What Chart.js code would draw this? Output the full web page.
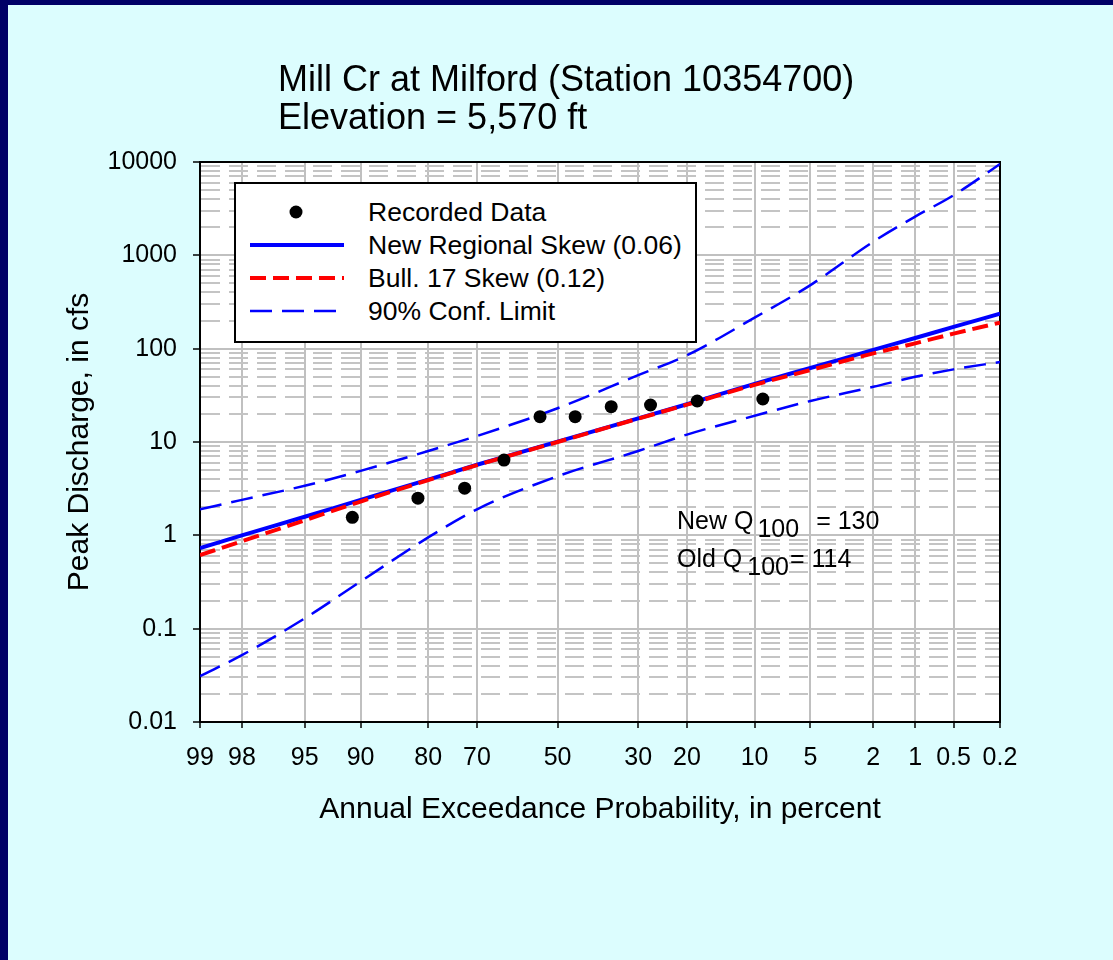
<!DOCTYPE html>
<html>
<head>
<meta charset="utf-8">
<script src="https://cdn.jsdelivr.net/npm/chart.js@4/dist/chart.umd.min.js"></script>
<style>
html,body{margin:0;padding:0;}
body{width:1113px;height:960px;background:#DCFDFE;position:relative;overflow:hidden;font-family:"Liberation Sans",Arial,sans-serif;color:#000;}
#frameTop{position:absolute;left:0;top:0;width:1113px;height:5px;background:#000066;}
#frameLeft{position:absolute;left:0;top:0;width:8px;height:960px;background:#000066;}
#chart{position:absolute;left:0;top:0;}
.title{position:absolute;left:278px;top:60px;font-size:36px;line-height:38px;white-space:nowrap;}
#legend{position:absolute;left:234px;top:182px;width:459px;height:157px;border:2px solid #000;background:#fff;}
.lrow{position:absolute;left:0;height:30px;width:459px;}
.lrow svg{position:absolute;left:0;top:0;}
.lrow span{position:absolute;left:132px;top:0;font-size:26.5px;line-height:30px;white-space:nowrap;}
.note{position:absolute;left:677px;font-size:25px;line-height:30px;white-space:nowrap;}
.sub{position:relative;top:8px;}
</style>
</head>
<body>
<div id="frameTop"></div>
<div id="frameLeft"></div>
<canvas id="chart" width="1113" height="960"></canvas>
<div class="title">Mill Cr at Milford (Station 10354700)<br>Elevation = 5,570 ft</div>
<div id="legend"></div>
<div class="note" style="top:505px;">New Q<span class="sub" style="margin-left:4px;">100</span><span style="margin-left:17px;">= 130</span></div>
<div class="note" style="top:543px;">Old Q<span class="sub" style="margin-left:5px;">100</span><span style="margin-left:1px;">= 114</span></div>
<script>
// ---------- data ----------
const xTickProbs  = [99, 98, 95, 90, 80, 70, 50, 30, 20, 10, 5, 2, 1, 0.5, 0.2];
const xTickLabels = ['99','98','95','90','80','70','50','30','20','10','5','2','1','0.5','0.2'];
const yTickValues = [0.01, 0.1, 1, 10, 100, 1000, 10000];
const yTickLabels = ['0.01','0.1','1','10','100','1000','10000'];

const recordedProbs = [90.91, 81.82, 72.73, 63.64, 54.55, 45.45, 36.36, 27.27, 18.18, 9.09];
const recordedQ     = [1.56, 2.5, 3.2, 6.4, 18.7, 18.7, 23.9, 24.9, 27.5, 28.9];

const curveProbs = [99, 98, 95, 90, 80, 70, 50, 30, 20, 10, 5, 2, 1, 0.5, 0.2];
const newSkewQ   = [0.73, 1.0, 1.58, 2.4, 3.95, 5.7, 10.1, 17.9, 25.4, 42, 62, 97, 130, 171, 237];
const bull17Q    = [0.615, 0.865, 1.45, 2.3, 3.9, 5.65, 10.0, 17.8, 25.1, 41, 59, 89, 114, 145, 190];
const upperCLQ   = [1.9, 2.4, 3.4, 4.9, 8.0, 11.6, 23, 52, 85, 215, 480, 1400, 2600, 4400, 9500];
const lowerCLQ   = [0.031, 0.052, 0.129, 0.32, 0.95, 1.9, 4.3, 8.0, 12.0, 19.1, 27.5, 39, 50, 60, 72];

const seriesLabels = ['Recorded Data', 'New Regional Skew (0.06)', 'Bull. 17 Skew (0.12)', '90% Conf. Limit'];
const xTitle = 'Annual Exceedance Probability, in percent';
const yTitle = 'Peak Discharge, in cfs';

// ---------- normal probability scale transform ----------
function normInv(p){
  const a=[-3.969683028665376e+01,2.209460984245205e+02,-2.759285104469687e+02,1.383577518672690e+02,-3.066479806614716e+01,2.506628277459239e+00];
  const b=[-5.447609879822406e+01,1.615858368580409e+02,-1.556989798598866e+02,6.680131188771972e+01,-1.328068155288572e+01];
  const c=[-7.784894002430293e-03,-3.223964580411365e-01,-2.400758277161838e+00,-2.549732539343734e+00,4.374664141464968e+00,2.938163982698783e+00];
  const d=[7.784695709041462e-03,3.224671290700398e-01,2.445134137142996e+00,3.754408661907416e+00];
  const pl=0.02425, ph=1-pl; let q,r;
  if(p<pl){q=Math.sqrt(-2*Math.log(p));return (((((c[0]*q+c[1])*q+c[2])*q+c[3])*q+c[4])*q+c[5])/((((d[0]*q+d[1])*q+d[2])*q+d[3])*q+1);}
  if(p<=ph){q=p-0.5;r=q*q;return (((((a[0]*r+a[1])*r+a[2])*r+a[3])*r+a[4])*r+a[5])*q/(((((b[0]*r+b[1])*r+b[2])*r+b[3])*r+b[4])*r+1);}
  q=Math.sqrt(-2*Math.log(1-p));return -(((((c[0]*q+c[1])*q+c[2])*q+c[3])*q+c[4])*q+c[5])/((((d[0]*q+d[1])*q+d[2])*q+d[3])*q+1);
}
const zOf = pct => normInv(1 - pct/100);
const toPts = (probs, vals) => probs.map((p,i)=>({x:zOf(p), y:vals[i]}));

const isDecade = v => Math.abs(Math.log10(v) - Math.round(Math.log10(v))) < 1e-6;
const FONT = '"Liberation Sans", Arial, sans-serif';
Chart.defaults.font.family = FONT;
Chart.defaults.color = '#000';

const styles = {
  rec:  {color:'#000000'},
  neu:  {color:'#0000FF', width:4, dash:[]},
  b17:  {color:'#FF0000', width:4, dash:[16,7]},
  conf: {color:'#0000FF', width:2.5, dash:[22,10]}
};

const lineDs = (label, data, st, order) => ({
  label, data, showLine:true, borderColor:st.color, borderWidth:st.width, borderDash:st.dash,
  pointRadius:0, fill:false, cubicInterpolationMode:'monotone', order
});

const datasets = [
  {label:seriesLabels[0], data:toPts(recordedProbs, recordedQ), showLine:false, pointRadius:6.5,
   pointBackgroundColor:'#000', pointBorderWidth:0, order:0},
  lineDs(seriesLabels[1], toPts(curveProbs, newSkewQ), styles.neu, 2),
  lineDs(seriesLabels[2], toPts(curveProbs, bull17Q), styles.b17, 1),
  lineDs(seriesLabels[3], toPts(curveProbs, upperCLQ), styles.conf, 3),
  lineDs(seriesLabels[3] + ' (lower)', toPts(curveProbs, lowerCLQ), styles.conf, 3)
];

const framePlugin = {
  id:'frame',
  beforeDraw(chart){
    const {ctx, chartArea:a} = chart;
    ctx.save(); ctx.fillStyle='#FFFFFF';
    ctx.fillRect(a.left, a.top, a.right-a.left, a.bottom-a.top);
    ctx.restore();
  },
  beforeDatasetsDraw(chart){
    const {ctx, chartArea:a} = chart;
    ctx.save(); ctx.strokeStyle='#000'; ctx.lineWidth=2;
    ctx.strokeRect(a.left, a.top, a.right-a.left, a.bottom-a.top);
    ctx.restore();
  }
};

new Chart(document.getElementById('chart'), {
  type:'scatter',
  data:{datasets},
  options:{
    responsive:false, animation:false, devicePixelRatio:1,
    layout:{padding:{top:162, right:113, left:0, bottom:0}},
    plugins:{legend:{display:false}, tooltip:{enabled:false}, title:{display:false}},
    scales:{
      x:{
        type:'linear', min:zOf(99), max:zOf(0.2),
        afterFit(s){ s.height = 238; },
        afterBuildTicks(s){ s.ticks = xTickProbs.map(p=>({value:zOf(p)})); },
        ticks:{autoSkip:false, maxRotation:0, minRotation:0, padding:15, color:'#000',
               font:{size:25, family:FONT}, callback:(v,i)=>xTickLabels[i]},
        grid:{color:'#C0C0C0', lineWidth:2, tickColor:'#000', tickLength:6, tickWidth:1.5},
        border:{color:'#000', width:2},
        title:{display:true, text:xTitle, color:'#000', font:{size:30, family:FONT}, padding:{top:0, bottom:132}}
      },
      y:{
        type:'logarithmic', min:0.01, max:10000,
        afterFit(s){ s.width = 200; },
        afterBuildTicks(s){
          const t=[];
          for(let i=0;i<yTickValues.length-1;i++){
            for(let k=1;k<=9;k++){ t.push({value:yTickValues[i]*k, major:k===1}); }
          }
          t.push({value:yTickValues[yTickValues.length-1], major:true});
          s.ticks=t;
        },
        ticks:{autoSkip:false, padding:16, color:'#000', font:{size:25, family:FONT},
          callback:(v)=>{ if(!isDecade(v)) return ''; const i=yTickValues.findIndex(tv=>Math.abs(Math.log10(tv)-Math.log10(v))<1e-6); return i>=0?yTickLabels[i]:''; }},
        grid:{
          color:(c)=> c.tick && !isDecade(c.tick.value) ? '#C4C4C4' : '#C0C0C0',
          lineWidth:2,
          tickColor:(c)=> c.tick && isDecade(c.tick.value) ? '#000' : 'rgba(0,0,0,0)',
          tickLength:7, tickWidth:1.5
        },
        border:{color:'#000', width:2, dash:(c)=> c.tick && !isDecade(c.tick.value) ? [19,9] : []},
        title:{display:true, text:yTitle, color:'#000', font:{size:30, family:FONT}, padding:{top:62, bottom:0}}
      }
    }
  },
  plugins:[framePlugin]
});

// ---------- legend (HTML, built from the series definitions) ----------
const legendItems = [
  {label:seriesLabels[0], type:'dot', st:styles.rec},
  {label:seriesLabels[1], type:'line', st:styles.neu},
  {label:seriesLabels[2], type:'line', st:styles.b17},
  {label:seriesLabels[3], type:'line', st:styles.conf}
];
const leg = document.getElementById('legend');
legendItems.forEach((it, i)=>{
  const row = document.createElement('div');
  row.className='lrow';
  row.style.top = (13 + 33*i) + 'px';
  let svg = '<svg width="120" height="30" xmlns="http://www.w3.org/2000/svg">';
  if(it.type==='dot'){
    svg += `<circle cx="60" cy="15" r="6.5" fill="${it.st.color}"/>`;
  } else {
    svg += `<line x1="14" y1="15" x2="108" y2="15" stroke="${it.st.color}" stroke-width="${it.st.width}" ${it.st.dash.length?`stroke-dasharray="${it.st.dash.join(' ')}"`:''}/>`;
  }
  svg += '</svg>';
  row.innerHTML = svg + '<span></span>';
  row.querySelector('span').textContent = it.label;
  leg.appendChild(row);
});
</script>
</body>
</html>
